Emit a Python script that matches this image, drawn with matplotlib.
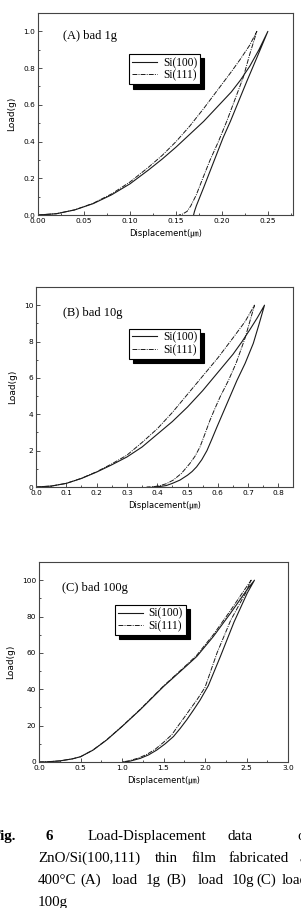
import matplotlib
matplotlib.use('Agg')
import matplotlib.pyplot as plt
from matplotlib.ticker import MultipleLocator

# (A) load 1g
a100_load_h = [0, 0.02, 0.04, 0.06, 0.08, 0.10, 0.12, 0.135, 0.15, 0.165, 0.18, 0.195, 0.21, 0.22, 0.23, 0.24, 0.2497]
a100_load_p = [0, 0.007, 0.028, 0.062, 0.11, 0.17, 0.245, 0.305, 0.37, 0.44, 0.51, 0.59, 0.67, 0.735, 0.81, 0.90, 1.0]
a100_unl_h = [0.2497, 0.238, 0.227, 0.218, 0.209, 0.201, 0.194, 0.187, 0.180, 0.176, 0.172, 0.170, 0.169]
a100_unl_p = [1.0, 0.86, 0.73, 0.62, 0.51, 0.42, 0.33, 0.24, 0.15, 0.10, 0.05, 0.02, 0.0]
a111_load_h = [0, 0.02, 0.04, 0.06, 0.08, 0.10, 0.12, 0.135, 0.15, 0.165, 0.18, 0.195, 0.21, 0.22, 0.23, 0.2377]
a111_load_p = [0, 0.007, 0.028, 0.064, 0.115, 0.18, 0.26, 0.325, 0.40, 0.485, 0.58, 0.68, 0.78, 0.85, 0.925, 1.0]
a111_unl_h = [0.2377, 0.230, 0.223, 0.214, 0.205, 0.196, 0.187, 0.179, 0.172, 0.166, 0.162, 0.157, 0.153]
a111_unl_p = [1.0, 0.875, 0.75, 0.63, 0.51, 0.40, 0.30, 0.20, 0.11, 0.05, 0.02, 0.005, 0.0]

# (B) load 10g
b100_load_h = [0, 0.05, 0.10, 0.15, 0.20, 0.25, 0.30, 0.35, 0.40, 0.45, 0.50, 0.55, 0.60, 0.65, 0.68, 0.707, 0.73, 0.754]
b100_load_p = [0, 0.05, 0.2, 0.47, 0.82, 1.22, 1.65, 2.2, 2.9, 3.6, 4.4, 5.3, 6.3, 7.3, 8.0, 8.69, 9.3, 10]
b100_unl_h = [0.754, 0.735, 0.717, 0.69, 0.663, 0.63, 0.597, 0.58, 0.564, 0.547, 0.53, 0.515, 0.50, 0.475, 0.45, 0.43, 0.41, 0.385]
b100_unl_p = [10, 8.9, 7.9, 6.8, 5.86, 4.58, 3.3, 2.62, 2.0, 1.5, 1.11, 0.85, 0.65, 0.38, 0.2, 0.08, 0.03, 0]
b111_load_h = [0, 0.05, 0.10, 0.15, 0.20, 0.25, 0.30, 0.35, 0.40, 0.45, 0.50, 0.55, 0.60, 0.65, 0.69, 0.721]
b111_load_p = [0, 0.05, 0.2, 0.48, 0.84, 1.27, 1.75, 2.45, 3.2, 4.1, 5.1, 6.1, 7.1, 8.2, 9.1, 10]
b111_unl_h = [0.721, 0.69, 0.66, 0.635, 0.607, 0.59, 0.574, 0.557, 0.541, 0.525, 0.508, 0.48, 0.453, 0.43, 0.41, 0.39, 0.365]
b111_unl_p = [10, 8.2, 6.8, 5.86, 4.94, 4.3, 3.67, 2.9, 2.2, 1.7, 1.3, 0.75, 0.38, 0.18, 0.08, 0.02, 0]

# (C) load 100g
c100_load_h = [0, 0.1, 0.25, 0.4, 0.5, 0.65, 0.815, 1.0, 1.218, 1.5, 1.78, 1.9, 2.1, 2.31, 2.51, 2.596]
c100_load_p = [0, 0.1, 0.6, 1.7, 2.9, 6.5, 12.1, 19.5, 28.7, 41.5, 53, 58, 69, 82, 95, 100]
c100_unl_h = [2.596, 2.51, 2.43, 2.35, 2.185, 2.04, 1.94, 1.86, 1.78, 1.70, 1.62, 1.52, 1.42, 1.32, 1.22, 1.1, 1.02]
c100_unl_p = [100, 93, 85, 77, 58, 42, 34, 28.5, 23.2, 18.4, 14, 10, 6.6, 3.9, 2.0, 0.5, 0]
c111_load_h = [0, 0.1, 0.25, 0.4, 0.5, 0.65, 0.815, 1.0, 1.218, 1.5, 1.78, 1.9, 2.1, 2.31, 2.45, 2.556]
c111_load_p = [0, 0.1, 0.6, 1.7, 2.9, 6.6, 12.2, 19.6, 28.9, 41.8, 53.5, 58.7, 70, 83.5, 93, 100]
c111_unl_h = [2.556, 2.49, 2.40, 2.31, 2.145, 2.0, 1.9, 1.82, 1.75, 1.67, 1.6, 1.5, 1.4, 1.3, 1.2, 1.08, 1.0]
c111_unl_p = [100, 93, 85.5, 78, 60, 41, 34, 29, 24.5, 19.5, 15, 10.8, 7, 4.2, 2.2, 0.6, 0]

panel_titles = ['(A) bad 1g', '(B) bad 10g', '(C) bad 100g']
series_labels = ['Si(100)', 'Si(111)']

W, H = 301, 908
fig = plt.figure(figsize=(W / 100, H / 100), dpi=100)

SERIF = ['Liberation Serif', 'DejaVu Serif']
SANS = ['DejaVu Sans', 'Noto Sans CJK JP']


def px_axes(l, t, r, b):
    return fig.add_axes([l / W, 1 - b / H, (r - l) / W, (b - t) / H])


panels = [
    dict(box=(38, 13, 293, 215), xlim=(0, 0.277), ylim=(0, 1.1), xmaj=0.05, ymaj=0.2,
         xfmt='%.2f', yfmt='%.1f', leg=(0.357, 0.797), txt=(0.097, 0.886),
         data=[(a100_load_h, a100_load_p, a100_unl_h, a100_unl_p),
               (a111_load_h, a111_load_p, a111_unl_h, a111_unl_p)]),
    dict(box=(36, 287, 293, 487), xlim=(0, 0.848), ylim=(0, 11), xmaj=0.1, ymaj=2,
         xfmt='%.1f', yfmt='%d', leg=(0.362, 0.792), txt=(0.106, 0.871),
         data=[(b100_load_h, b100_load_p, b100_unl_h, b100_unl_p),
               (b111_load_h, b111_load_p, b111_unl_h, b111_unl_p)]),
    dict(box=(39, 562, 288, 762), xlim=(0, 3.0), ylim=(0, 110), xmaj=0.5, ymaj=20,
         xfmt='%.1f', yfmt='%d', leg=(0.304, 0.786), txt=(0.092, 0.871),
         data=[(c100_load_h, c100_load_p, c100_unl_h, c100_unl_p),
               (c111_load_h, c111_load_p, c111_unl_h, c111_unl_p)]),
]

styles = [dict(ls='-', lw=0.8, color='#1a1a1a'),
          dict(ls=(0, (5, 1.2, 1, 1.2)), lw=0.7, color='#1a1a1a')]

for i, pn in enumerate(panels):
    ax = px_axes(*pn['box'])
    for (lh, lp, uh, up), st, lab in zip(pn['data'], styles, series_labels):
        ax.plot(lh + uh, lp + up, linestyle=st['ls'], lw=st['lw'], color=st['color'], label=lab)
    ax.set_xlim(*pn['xlim'])
    ax.set_ylim(*pn['ylim'])
    ax.xaxis.set_major_locator(MultipleLocator(pn['xmaj']))
    ax.xaxis.set_minor_locator(MultipleLocator(pn['xmaj'] / 2))
    ax.yaxis.set_major_locator(MultipleLocator(pn['ymaj']))
    ax.yaxis.set_minor_locator(MultipleLocator(pn['ymaj'] / 2))
    ax.xaxis.set_major_formatter(plt.FormatStrFormatter(pn['xfmt']))
    ax.yaxis.set_major_formatter(plt.FormatStrFormatter(pn['yfmt']))
    ax.tick_params(which='both', direction='in', top=False, right=False,
                   labelsize=5.3, pad=2, color='#333333', width=0.6)
    ax.tick_params(which='major', length=3)
    ax.tick_params(which='minor', length=1.5)
    for s in ax.spines.values():
        s.set_linewidth(0.8)
        s.set_color('#444444')
    ax.set_ylabel('Load(g)', fontsize=6.5, family=SANS, labelpad=5)
    ax.set_xlabel('Displacement(㎛)', fontsize=6, family=SANS, labelpad=4)
    ax.text(pn['txt'][0], pn['txt'][1], panel_titles[i], transform=ax.transAxes,
            ha='left', va='center', fontsize=9, family=SERIF)
    leg = ax.legend(loc='upper left', bbox_to_anchor=pn['leg'], borderaxespad=0,
                    prop=dict(family=SERIF, size=8.3), handlelength=2.2,
                    labelspacing=0.05, borderpad=0.25, handletextpad=0.5,
                    fancybox=False, framealpha=1,
                    shadow=dict(color='black', alpha=1, ox=3, oy=-3))
    leg.get_frame().set_edgecolor('black')
    leg.get_frame().set_linewidth(0.8)

# caption (cropped at the figure edges like the source scan)
cap_size = 10.8
lines = [
    (840, [('Fig.', 16, True, 'right'), ('6', 46, True, 'left'),
           ('Load-Displacement', 88, False, 'left'), ('data', 228, False, 'left'),
           ('of', 297, False, 'left')]),
    (862, [('ZnO/Si(100,111)', 38, False, 'left'), ('thin', 155, False, 'left'),
           ('film', 192, False, 'left'), ('fabricated', 229, False, 'left'),
           ('at', 300, False, 'left')]),
    (884, [('400°C', 38, False, 'left'), ('(A)', 80, False, 'left'),
           ('load', 112, False, 'left'), ('1g', 146, False, 'left'),
           ('(B)', 166, False, 'left'), ('load', 198, False, 'left'),
           ('10g', 232, False, 'left'), ('(C)', 256, False, 'left'),
           ('load', 282, False, 'left')]),
    (906, [('100g', 38, False, 'left')]),
]
for y, words in lines:
    for w, x, bold, ha in words:
        fig.text(x / W, 1 - y / H, w, ha=ha, va='baseline', fontsize=cap_size,
                 family=SERIF, fontweight='bold' if bold else 'normal')

fig.savefig('out.png', dpi=100)
